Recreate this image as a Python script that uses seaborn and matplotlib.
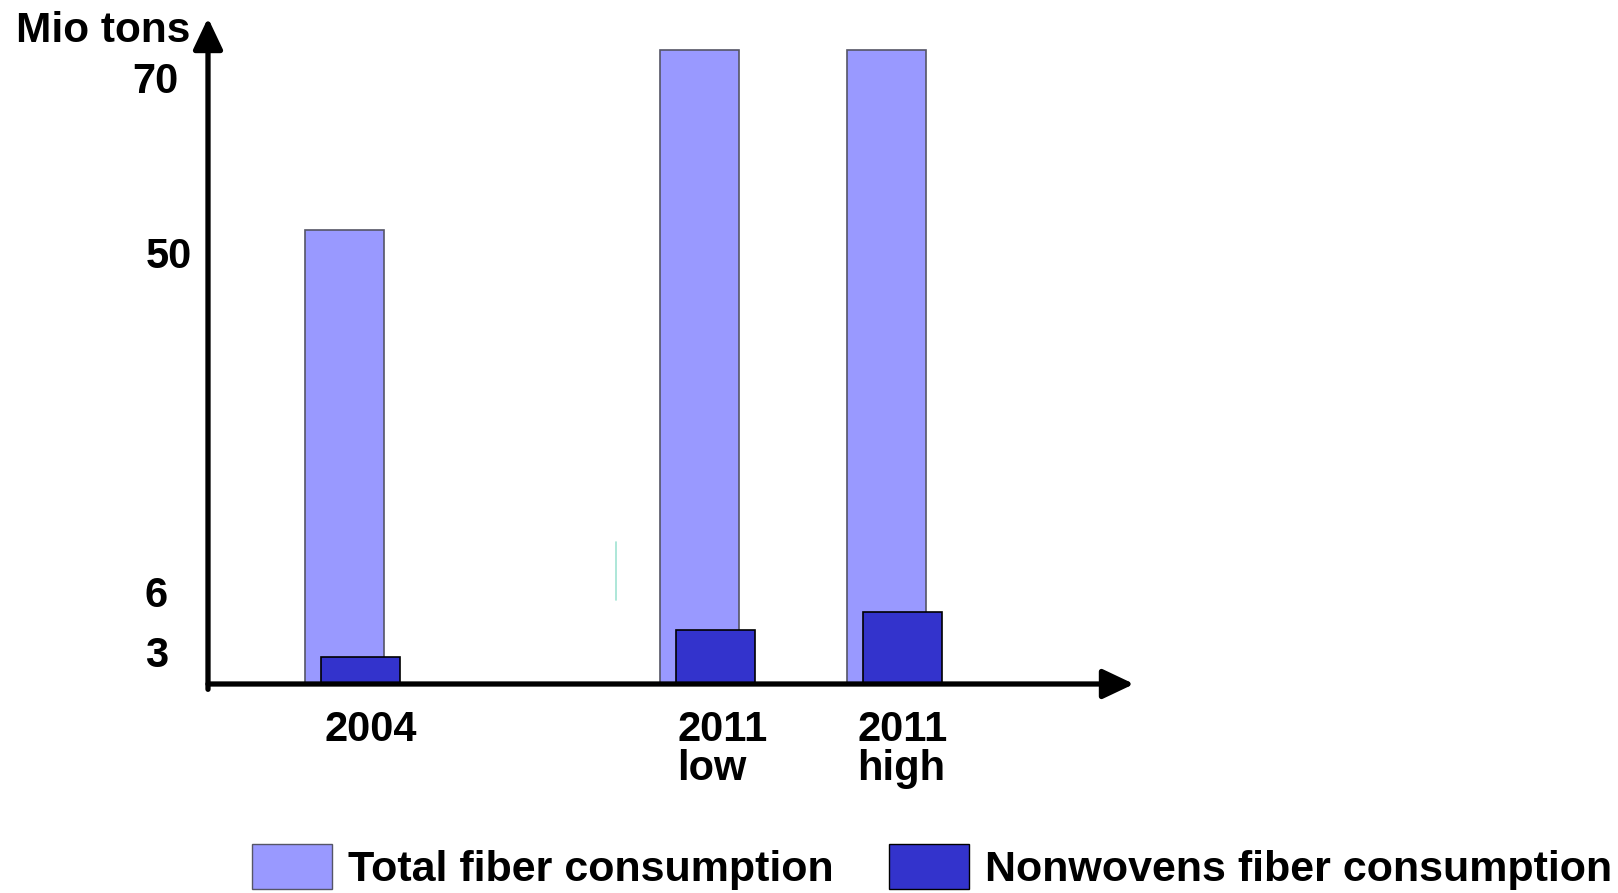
import pandas as pd
import matplotlib
matplotlib.use("Agg")
import matplotlib.pyplot as plt
import matplotlib.transforms as mtransforms
from matplotlib.patches import Patch
from matplotlib.lines import Line2D
import seaborn as sns

# values (Mio tons)
categories = ["2004", "2011\nlow", "2011\nhigh"]
total_fiber = [52.4, 73.2, 73.2]
nonwovens_fiber = [3.1, 6.2, 8.3]
y_tick_labels = ["70", "50", "6", "3"]
legend_labels = ["Total fiber consumption", "Nonwovens fiber consumption"]

# layout only
cat_pos = [0.0, 1.9, 2.9]
nw_shift = 0.0856
bar_w = 0.4225
y_tick_pos = [70, 49.8, 10.7, 3.8]
x_label_dx = [-19.5, -22.5, -29.5]   # px
y_label_dx = [-13, 1, 0, 0]          # px

TOTAL_COLOR = "#9999FF"
NW_COLOR = "#3333CC"

sns.set_theme(style="white")
plt.rcParams["font.family"] = ["Liberation Sans", "DejaVu Sans"]
plt.rcParams["font.weight"] = "bold"
plt.rcParams["text.color"] = "black"
plt.rcParams["xtick.labelcolor"] = "black"
plt.rcParams["ytick.labelcolor"] = "black"

W, H = 1618, 893
fig = plt.figure(figsize=(W / 100, H / 100), dpi=100)
ax = fig.add_axes([208 / W, (H - 684) / H, (1134 - 208) / W, (684 - 18) / H])

df_total = pd.DataFrame({"pos": cat_pos, "value": total_fiber})
df_nw = pd.DataFrame({"pos": [p + nw_shift for p in cat_pos], "value": nonwovens_fiber})

sns.barplot(data=df_total, x="pos", y="value", native_scale=True, orient="x",
            width=bar_w, color=TOTAL_COLOR, saturation=1, errorbar=None,
            edgecolor="#555566", linewidth=1.2, ax=ax)
sns.barplot(data=df_nw, x="pos", y="value", native_scale=True, orient="x",
            width=bar_w, color=NW_COLOR, saturation=1, errorbar=None,
            edgecolor="black", linewidth=1.2, ax=ax)

ax.set_xlim(-0.7299, 4.2219)
ax.set_ylim(0, 76.9)
ax.set_xlabel("")
ax.set_ylabel("")
for s in ax.spines.values():
    s.set_visible(False)

# axes drawn as arrows
arrow = dict(arrowstyle="-|>,head_length=19,head_width=9", lw=3.8, color="black",
             shrinkA=0, shrinkB=0, mutation_scale=1)
ax.annotate("", xy=(0, 1), xytext=(0, -0.008), xycoords="axes fraction",
            arrowprops=arrow, annotation_clip=False)
ax.annotate("", xy=(1, 0), xytext=(0, 0), xycoords="axes fraction",
            arrowprops=arrow, annotation_clip=False)

ax.set_xticks(cat_pos, labels=categories)
ax.set_yticks(y_tick_pos, labels=y_tick_labels)
ax.tick_params(axis="x", length=0, pad=19, labelsize=30)
ax.tick_params(axis="y", length=0, pad=45.4, labelsize=30)

for lab, dx in zip(ax.get_xticklabels(), x_label_dx):
    lab.set_horizontalalignment("left")
    lab.set_multialignment("left")
    lab.set_linespacing(0.95)
    lab.set_fontweight("bold")
    lab.set_color("black")
    lab.set_transform(lab.get_transform() + mtransforms.ScaledTranslation(dx / 100, 0, fig.dpi_scale_trans))
for lab, dx in zip(ax.get_yticklabels(), y_label_dx):
    lab.set_horizontalalignment("left")
    lab.set_fontweight("bold")
    lab.set_color("black")
    lab.set_transform(lab.get_transform() + mtransforms.ScaledTranslation(dx / 100, 0, fig.dpi_scale_trans))

fig.text(190 / W, 1 - 42 / H, "Mio tons", ha="right", va="baseline",
         fontsize=30.5, fontweight="bold", color="black")

# small stray mark present in the original slide
fig.add_artist(Line2D([616 / W, 616 / W], [1 - 542 / H, 1 - 600 / H],
                      color="#9fe3d2", lw=1.2))

handles = [Patch(facecolor=TOTAL_COLOR, edgecolor="#555566", linewidth=1.0),
           Patch(facecolor=NW_COLOR, edgecolor="black", linewidth=1.0)]
fs = 43.1
fig.legend(handles, legend_labels, loc="lower left", bbox_to_anchor=(252 / W, 3 / H),
           ncol=2, frameon=False, prop={"size": 31, "weight": "bold"},
           labelcolor="black",
           handlelength=80 / fs, handleheight=54 / fs, handletextpad=16 / fs,
           columnspacing=1.3, borderpad=0, borderaxespad=0)

fig.savefig("out.png", dpi=100)
